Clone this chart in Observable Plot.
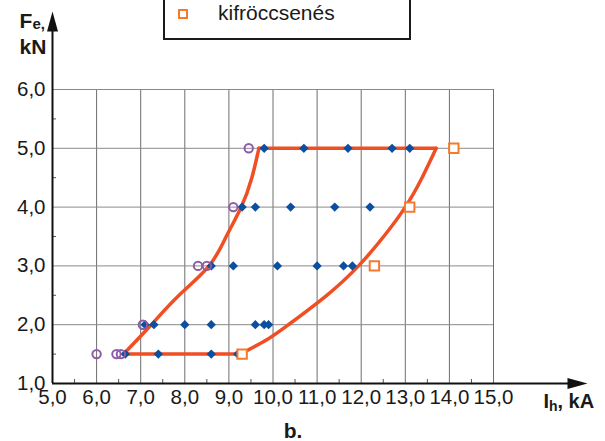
<!DOCTYPE html>
<html>
<head>
<meta charset="utf-8">
<script src="https://cdn.jsdelivr.net/npm/d3@7"></script>
<script src="https://cdn.jsdelivr.net/npm/@observablehq/plot@0.6"></script>
<style>
  body { margin: 0; background: #fff; }
  #wrap { position: relative; width: 605px; height: 441px; overflow: hidden; font-family: "Liberation Sans", Arial, sans-serif; }
  #legend { position: absolute; left: 163px; top: -4px; width: 248px; height: 44px; box-sizing: border-box; border: 2px solid #1a1a1a; background: #fff; }
  #legend .sw { position: absolute; left: 13px; top: 11px; width: 10px; height: 10px; box-sizing: border-box; border: 2px solid #f47a2e; }
  #legend .lb { position: absolute; left: 53px; top: 4px; font-size: 21px; line-height: 21px; color: #1a1a1a; white-space: nowrap; }
</style>
</head>
<body>
<div id="wrap"></div>
<script>
// axis ticks
const xTicks = [5, 6, 7, 8, 9, 10, 11, 12, 13, 14, 15];
const yTicks = [1, 2, 3, 4, 5, 6];
const xMinor = [5.5, 6.5, 7.5, 8.5, 9.5, 10.5, 11.5, 12.5, 13.5, 14.5];
const yMinor = [1.5, 2.5, 3.5, 4.5, 5.5];
const tickLabel = d => d.toFixed(1).replace(".", ",");

// purple open circles
const circleX = [6.0, 6.45, 6.55, 7.05, 8.3, 8.5, 9.1, 9.45];
const circleY = [1.5, 1.5, 1.5, 2.0, 3.0, 3.0, 4.0, 5.0];

// blue diamonds
const diamondX = [6.65, 7.4, 8.6, 9.2,
                  7.1, 7.3, 8.0, 8.6, 9.6, 9.8, 9.9,
                  8.6, 9.1, 10.1, 11.0, 11.6, 11.8,
                  9.3, 9.6, 10.4, 11.4, 12.2,
                  9.8, 10.7, 11.7, 12.7, 13.1];
const diamondY = [1.5, 1.5, 1.5, 1.5,
                  2, 2, 2, 2, 2, 2, 2,
                  3, 3, 3, 3, 3, 3,
                  4, 4, 4, 4, 4,
                  5, 5, 5, 5, 5];

// orange squares (kifröccsenés)
const squareX = [9.3, 12.3, 13.1, 14.1];
const squareY = [1.5, 3.0, 4.0, 5.0];

// red envelope
const leftEdgeX = [6.61, 7.24, 7.87, 8.55, 8.94, 9.28, 9.52, 9.68];
const leftEdgeY = [1.5, 2.0, 2.5, 3.0, 3.5, 4.0, 4.5, 5.0];
const rightEdgeX = [9.26, 9.87, 10.35, 11.22, 11.94, 12.51, 13.0, 13.38, 13.70];
const rightEdgeY = [1.5, 1.75, 2.0, 2.5, 3.0, 3.5, 4.0, 4.5, 5.0];

const legendLabel = "kifröccsenés";

const pts = (xs, ys) => xs.map((x, i) => ({x, y: ys[i]}));
const circles = pts(circleX, circleY);
const diamonds = pts(diamondX, diamondY);
const squares = pts(squareX, squareY);
const leftEdge = pts(leftEdgeX, leftEdgeY);
const rightEdge = pts(rightEdgeX, rightEdgeY);
const bottomEdge = [leftEdge[0], rightEdge[0]];
const topEdge = [leftEdge[leftEdge.length - 1], rightEdge[rightEdge.length - 1]];

const arrowHead = {
  draw(ctx) { ctx.moveTo(-5.5, 0); ctx.lineTo(0, -20); ctx.lineTo(5.5, 0); ctx.closePath(); }
};

const RED = "#f04e23";
const font = "'Liberation Sans', Arial, sans-serif";

const chart = Plot.plot({
  width: 605,
  height: 441,
  marginLeft: 52,
  marginRight: 112,
  marginTop: 89,
  marginBottom: 58,
  x: {domain: [5, 15]},
  y: {domain: [1, 6]},
  style: {fontFamily: font, fontSize: "20px", color: "#1a1a1a", background: "white", overflow: "visible"},
  marks: [
    Plot.ruleX(xTicks.slice(1), {stroke: "#6e6e6e", strokeWidth: 1}),
    Plot.ruleY(yTicks.slice(1), {x1: 5, x2: 15, stroke: "#8a8a8a", strokeWidth: 1}),
    Plot.ruleX(xMinor, {y1: 1, y2: 1, insetTop: -4, stroke: "#555", strokeWidth: 1}),
    Plot.ruleY(yMinor, {x1: 5, x2: 5, insetRight: -4, stroke: "#555", strokeWidth: 1}),
    Plot.axisX(xTicks, {tickSize: 0, tickPadding: 6, tickFormat: tickLabel, fontSize: 20.5, label: null, fill: "#1a1a1a"}),
    Plot.axisY(yTicks, {tickSize: 0, tickPadding: 7, tickFormat: tickLabel, fontSize: 20.5, label: null, fill: "#1a1a1a"}),
    // axis lines with arrowheads
    Plot.ruleY([1], {x1: 5, x2: 15, insetRight: -76, stroke: "#111", strokeWidth: 2}),
    Plot.ruleX([5], {y1: 6, y2: 1, insetTop: -58, stroke: "#111", strokeWidth: 2}),
    Plot.dot([0], {x: 15, y: 1, dx: 74, rotate: 90, symbol: arrowHead, fill: "#111", stroke: "none"}),
    Plot.dot([0], {x: 5, y: 6, dy: -58, symbol: arrowHead, fill: "#111", stroke: "none"}),
    // envelope
    Plot.line(leftEdge, {x: "x", y: "y", curve: "natural", stroke: RED, strokeWidth: 3.5}),
    Plot.line(rightEdge, {x: "x", y: "y", curve: "natural", stroke: RED, strokeWidth: 3.5}),
    Plot.line(bottomEdge, {x: "x", y: "y", stroke: RED, strokeWidth: 3.5}),
    Plot.line(topEdge, {x: "x", y: "y", stroke: RED, strokeWidth: 3.5}),
    // points
    Plot.dot(diamonds, {x: "x", y: "y", symbol: "diamond2", r: 4.2, fill: "#0b4f9e", stroke: "none"}),
    Plot.dot(circles, {x: "x", y: "y", symbol: "circle", r: 4.2, fill: "none", stroke: "#8e5ba8", strokeWidth: 2}),
    Plot.dot(squares, {x: "x", y: "y", symbol: "square", r: 5.3, fill: "white", stroke: "#f47a2e", strokeWidth: 2}),
    // axis titles
    Plot.text(["F"], {x: 5, y: 6, dx: -33, dy: -62, textAnchor: "start", lineAnchor: "bottom", fontWeight: "bold", fontSize: 21}),
    Plot.text(["e,"], {x: 5, y: 6, dx: -20, dy: -61, textAnchor: "start", lineAnchor: "bottom", fontWeight: "bold", fontSize: 15}),
    Plot.text(["kN"], {x: 5, y: 6, dx: -33, dy: -36, textAnchor: "start", lineAnchor: "bottom", fontWeight: "bold", fontSize: 21}),
    Plot.text(["I"], {x: 15, y: 1, dx: 50, dy: 24, textAnchor: "start", lineAnchor: "bottom", fontWeight: "bold", fontSize: 20}),
    Plot.text(["h"], {x: 15, y: 1, dx: 55.5, dy: 27, textAnchor: "start", lineAnchor: "bottom", fontWeight: "bold", fontSize: 14}),
    Plot.text([", kA"], {x: 15, y: 1, dx: 64, dy: 24, textAnchor: "start", lineAnchor: "bottom", fontWeight: "bold", fontSize: 20}),
    Plot.text(["b."], {frameAnchor: "bottom", dx: 20, dy: 54, lineAnchor: "bottom", fontWeight: "bold", fontSize: 21})
  ]
});

const wrap = document.getElementById("wrap");
wrap.appendChild(chart);
const legend = document.createElement("div");
legend.id = "legend";
legend.innerHTML = `<div class="sw"></div><div class="lb"></div>`;
legend.querySelector(".lb").textContent = legendLabel;
wrap.appendChild(legend);
</script>
</body>
</html>
